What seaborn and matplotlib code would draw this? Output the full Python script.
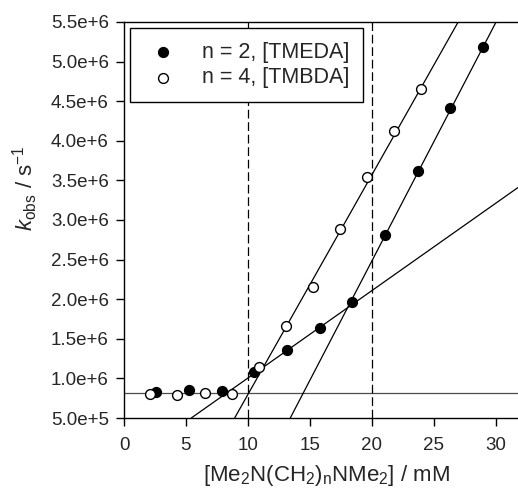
import matplotlib
matplotlib.use("Agg")
import matplotlib.pyplot as plt
import seaborn as sns
import pandas as pd

# 数据
tmeda_x = [2.56, 5.22, 7.88, 10.5, 13.15, 15.78, 18.42, 21.05, 23.71, 26.32, 28.98]
tmeda_y = [8.24e5, 8.54e5, 8.37e5, 1.081e6, 1.363e6, 1.64e6, 1.96e6, 2.81e6, 3.62e6, 4.42e6, 5.19e6]
tmbda_x = [2.07, 4.30, 6.51, 8.71, 10.89, 13.06, 15.24, 17.42, 19.60, 21.77, 23.98]
tmbda_y = [8.0e5, 7.87e5, 8.16e5, 8.07e5, 1.144e6, 1.665e6, 2.15e6, 2.886e6, 3.547e6, 4.128e6, 4.658e6]

# 拟合直线端点
plateau_x = [0.0, 31.8]
plateau_y = [8.17e5, 8.17e5]
tmeda_low_x = [5.43, 31.8]
tmeda_low_y = [5.0e5, 3.41e6]
tmeda_high_x = [13.42, 30.03]
tmeda_high_y = [5.0e5, 5.5e6]
tmbda_fit_x = [8.93, 26.97]
tmbda_fit_y = [5.0e5, 5.5e6]
vlines_x = [10, 20]

x_ticks = [0, 5, 10, 15, 20, 25, 30]
y_ticks = [5.0e5, 1.0e6, 1.5e6, 2.0e6, 2.5e6, 3.0e6, 3.5e6, 4.0e6, 4.5e6, 5.0e6, 5.5e6]
y_ticklabels = ["5.0e+5", "1.0e+6", "1.5e+6", "2.0e+6", "2.5e+6", "3.0e+6",
                "3.5e+6", "4.0e+6", "4.5e+6", "5.0e+6", "5.5e+6"]

sns.set_style("ticks")
plt.rcParams['font.family'] = ['Liberation Sans', 'DejaVu Sans']
plt.rcParams['mathtext.fontset'] = 'custom'
plt.rcParams['mathtext.rm'] = 'Liberation Sans'
plt.rcParams['mathtext.it'] = 'Liberation Sans:italic'

fig = plt.figure(figsize=(5.18, 4.90), dpi=100)
ax = fig.add_axes([124 / 518, 1 - 418 / 490, 394 / 518, 396 / 490])

# 拟合线
for lx, ly, c in [(plateau_x, plateau_y, '0.3'), (tmeda_low_x, tmeda_low_y, 'black'),
                  (tmeda_high_x, tmeda_high_y, 'black'), (tmbda_fit_x, tmbda_fit_y, 'black')]:
    sns.lineplot(x=lx, y=ly, ax=ax, color=c, linewidth=0.9, zorder=2)

for vx in vlines_x:
    ax.axvline(vx, color='black', linewidth=0.9, linestyle=(0, (7, 3)), zorder=2)

df1 = pd.DataFrame({'x': tmeda_x, 'y': tmeda_y})
df2 = pd.DataFrame({'x': tmbda_x, 'y': tmbda_y})
sns.scatterplot(data=df1, x='x', y='y', ax=ax, s=50, color='black', edgecolor='black',
                linewidth=1, label='n = 2, [TMEDA]', zorder=3)
sns.scatterplot(data=df2, x='x', y='y', ax=ax, s=50, color='white', edgecolor='black',
                linewidth=1, label='n = 4, [TMBDA]', zorder=3)

ax.set_xlim(0, 31.8)
ax.set_ylim(5.0e5, 5.5e6)
ax.set_xticks(x_ticks)
ax.set_yticks(y_ticks)
ax.set_yticklabels(y_ticklabels)
ax.tick_params(direction='out', length=6, width=1, labelsize=13.5, color='black')
ax.tick_params(axis='x', pad=8)
ax.tick_params(axis='y', pad=5)
for s in ['left', 'bottom', 'top']:
    ax.spines[s].set_color('black')
    ax.spines[s].set_linewidth(1)
ax.spines['right'].set_visible(False)

ax.set_xlabel(r'[Me$_2$N(CH$_2$)$_\mathrm{n}$NMe$_2$] / mM', fontsize=16, va='center')
ax.xaxis.set_label_coords(0.515, -0.145)
ax.set_ylabel(r'$k_{\mathrm{obs}}$ / s$^{-1}$', fontsize=16, va='center')
ax.yaxis.set_label_coords(-0.251, 0.58)

# 图例
leg = ax.legend(loc='upper left', bbox_to_anchor=(0.015, 0.985), borderaxespad=0,
                fancybox=False, framealpha=1, edgecolor='black', fontsize=15.5,
                handlelength=1.8, handletextpad=0.9, borderpad=0.65, labelspacing=0.2)
leg.get_frame().set_linewidth(1)
leg.set_zorder(5)

plt.savefig('out.png', dpi=100)
